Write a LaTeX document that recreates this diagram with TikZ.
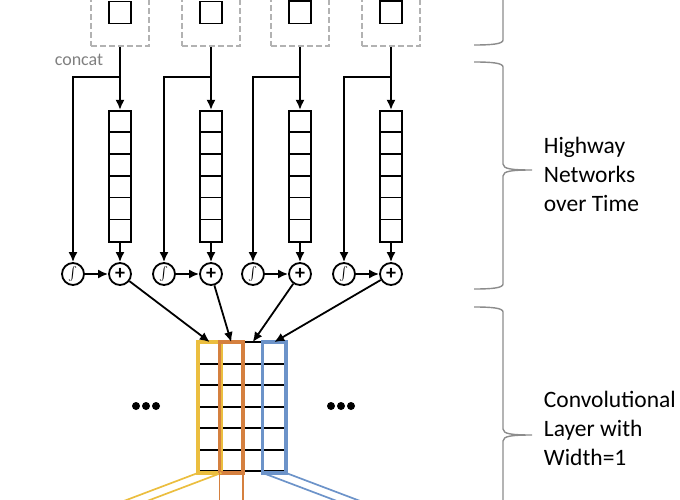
\documentclass[tikz,border=0pt]{standalone}
\usepackage{fontspec}
\usepackage{graphicx}
\setmainfont{Carlito}
\usetikzlibrary{arrows.meta}
\definecolor{hwyellow}{HTML}{EBBE3F}
\definecolor{hworange}{HTML}{D5803F}
\definecolor{hwblue}{HTML}{6C93C9}
\definecolor{hwgray}{HTML}{8C8C8C}
\begin{document}
\begin{tikzpicture}[x=1pt,y=-1pt,line width=1.8pt,>={Latex[length=10pt,width=9pt]},
  cell/.style={draw,minimum width=22pt,minimum height=22pt,inner sep=0pt},
  gate/.style={draw,circle,minimum size=22pt,inner sep=0pt},
  brc/.style={draw=hwgray,line width=1.4pt},
  lbl/.style={align=left,anchor=west,inner sep=0pt,font=\fontsize{23.5}{29}\selectfont}]
\clip (0,0) rectangle (680,500);
% highway columns
\foreach \i/\sx in {1/120,2/211,3/300,4/391}{
  \node[draw=gray!60,dash pattern=on 6pt off 3pt,minimum width=58pt,minimum height=120pt,inner sep=0pt] (w\i) at (\sx,-14) {};
  \node[cell] (e\i) at (\sx,12.5) {};
  \node[draw,minimum width=22pt,minimum height=131.4pt,inner sep=0pt] (h\i) at (\sx,176.5) {};
  \foreach \k in {1,...,5}
    \draw ([yshift=-\k*21.9pt]h\i.north west)--([yshift=-\k*21.9pt]h\i.north east);
  \node[gate] (s\i) at (\sx-47,274) {\scalebox{1.35}{$\int$}};
  \node[gate,font=\fontsize{20}{20}\selectfont\bfseries] (p\i) at (\sx,274) {+};
  \coordinate (b\i) at (\sx,77);
  \draw[->] (w\i.south)--(h\i.north);
  \draw[->] (b\i)-|(s\i.north);
  \draw[->] (h\i.south)--(p\i.north);
  \draw[->] (s\i)--(p\i);
}
\foreach \i in {3,4} \node[cell,anchor=south] at ([yshift=-1pt]e\i.north) {};
\node[text=gray,font=\fontsize{18}{18}\selectfont] (cc) at (79,60) {concat};
% convolutional layer
\foreach \j/\cx in {1/209.75,2/231.25,3/252.75,4/274.25}
  \node[minimum width=21.5pt,minimum height=129pt,inner sep=0pt] (c\j) at (\cx,407.5) {};
\foreach \r in {0,...,6}
  \draw ([yshift=-\r*21.5pt]c1.north west)--([yshift=-\r*21.5pt]c4.north east);
\draw[hwyellow,line width=3.5pt] (c1.north west) rectangle (c1.south east);
\draw[hworange,line width=3.5pt] (c2.north west) rectangle (c2.south east);
\draw[hwblue,line width=3.5pt] (c4.north west) rectangle (c4.south east);
\draw[hwyellow,line width=1.7pt] (c1.south west)--++(-148,56) (c1.south east)--++(-148,56);
\draw[hworange,line width=1.7pt] (c2.south west)--++(0,40) (c2.south east)--++(0,40);
\draw[hwblue,line width=1.7pt] (c4.south west)--++(148,56) (c4.south east)--++(148,56);
\foreach \j in {1,...,4} \draw[->] (p\j)--(c\j.north);
\foreach \cx in {146,341} \foreach \d in {-10,0,10} \fill (\cx+\d,406) circle (4pt);
% braces
\foreach \t/\m/\b in {-182/-68/45,62/170/289,307/435/563}
  \draw[brc] (474,\t) .. controls (492,\t) and (503,\t+1) .. (503,\t+5)--(503,\m-6)
    .. controls (503,\m-1) and (512,\m) .. (532,\m)
    .. controls (512,\m) and (503,\m+1) .. (503,\m+6)--(503,\b-5)
    .. controls (503,\b-1) and (492,\b) .. (474,\b);
\node[lbl] (hw) at (543,174) {Highway\\Networks\\over Time};
\node[lbl] (cl) at (543,428) {Convolutional\\Layer with\\Width=1};
\end{tikzpicture}
\end{document}
